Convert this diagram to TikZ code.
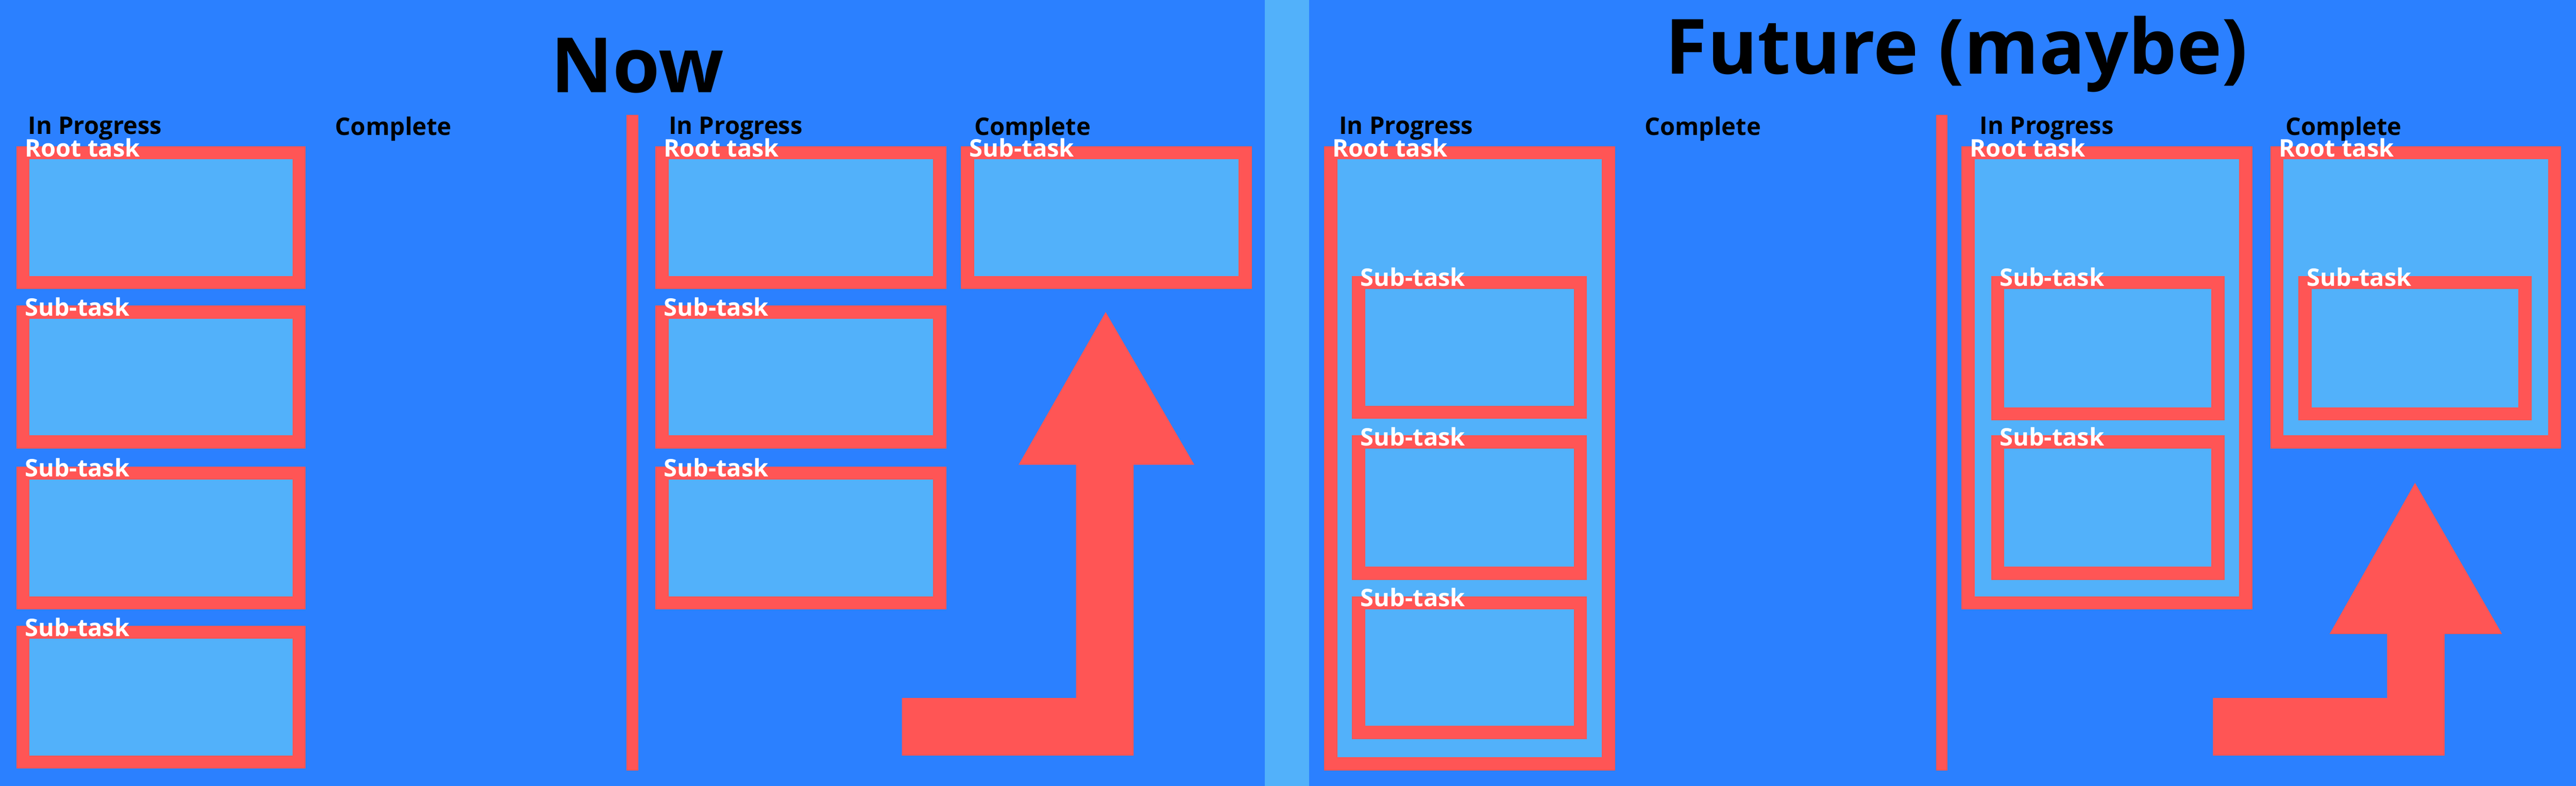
\documentclass[tikz,border=0pt]{standalone}
\usepackage{fontspec}
\setmainfont{Open Sans}
\usetikzlibrary{fit}
\definecolor{bg}{HTML}{2B80FF}
\definecolor{lb}{HTML}{52B1FA}
\definecolor{rd}{HTML}{FF5555}
\tikzset{
  taskbox/.style={draw=rd, fill=lb, line width=11.4pt, inner sep=0pt},
  lbl/.style={anchor=north west, text=white, font=\bfseries\fontsize{21}{25}\selectfont, inner sep=0pt},
  head/.style={anchor=north west, text=black, font=\bfseries\fontsize{21}{25}\selectfont, inner sep=0pt},
  ttl/.style={text=black, font=\bfseries\fontsize{66}{70}\selectfont, inner sep=0pt},
  sep/.style={draw=rd, line width=10pt},
}
\newcommand\tbox[6]{\node[taskbox, fit={(#2,#3) (#4,#5)}] (#1) {};
  \node[lbl] (#1t) at ([shift={(5,-5)}]#1.north west) {#6};}
\begin{document}
\begin{tikzpicture}[x=0.05cm,y=-0.05cm]
\fill[bg] (0,0) rectangle (1568,478.4);
\useasboundingbox (0,0) rectangle (1568,478.4);
\fill[lb] (770,0) rectangle (797,478.4);
\node[ttl] (t1) at (388,40) {Now};
\node[ttl] (t2) at (1191,33) {Future (maybe)};
\foreach \x/\t [count=\i] in {17/In Progress,204/Complete,407/In Progress,593/Complete,815/In Progress,1001/Complete,1205/In Progress,1391/Complete}
  \node[head] (h\i) at (\x,71) {\t};
\coordinate (s1a) at (385,70); \coordinate (s1b) at (385,469);
\coordinate (s2a) at (1182,70); \coordinate (s2b) at (1182,469);
\draw[sep] (s1a) -- (s1b);
\draw[sep] (s2a) -- (s2b);
% left panel
\tbox{a1}{14}{93}{182}{172}{Root task}
\tbox{a2}{14}{190}{182}{269}{Sub-task}
\tbox{a3}{14}{288}{182}{367}{Sub-task}
\tbox{a4}{14}{385}{182}{464}{Sub-task}
\tbox{b1}{403}{93}{572}{172}{Root task}
\tbox{b2}{403}{190}{572}{269}{Sub-task}
\tbox{b3}{403}{288}{572}{367}{Sub-task}
\tbox{c1}{589}{93}{758}{172}{Sub-task}
\fill[rd] (549,425) -- (655,425) -- (655,283) -- (620,283) -- (673,190) -- (727,283) -- (690,283) -- (690,460) -- (549,460) -- cycle;
% right panel
\tbox{d0}{810}{93}{979}{465}{Root task}
\tbox{d1}{827}{172}{962}{251}{Sub-task}
\tbox{d2}{827}{269}{962}{349}{Sub-task}
\tbox{d3}{827}{367}{962}{446}{Sub-task}
\tbox{e0}{1198}{93}{1367}{367}{Root task}
\tbox{e1}{1216}{172}{1350}{252}{Sub-task}
\tbox{e2}{1216}{269}{1350}{349}{Sub-task}
\tbox{f0}{1386}{93}{1555}{269}{Root task}
\tbox{f1}{1403}{172}{1537}{252}{Sub-task}
\fill[rd] (1347,425) -- (1453,425) -- (1453,386) -- (1418,386) -- (1470,294) -- (1523,386) -- (1488,386) -- (1488,460) -- (1347,460) -- cycle;
\end{tikzpicture}
\end{document}
